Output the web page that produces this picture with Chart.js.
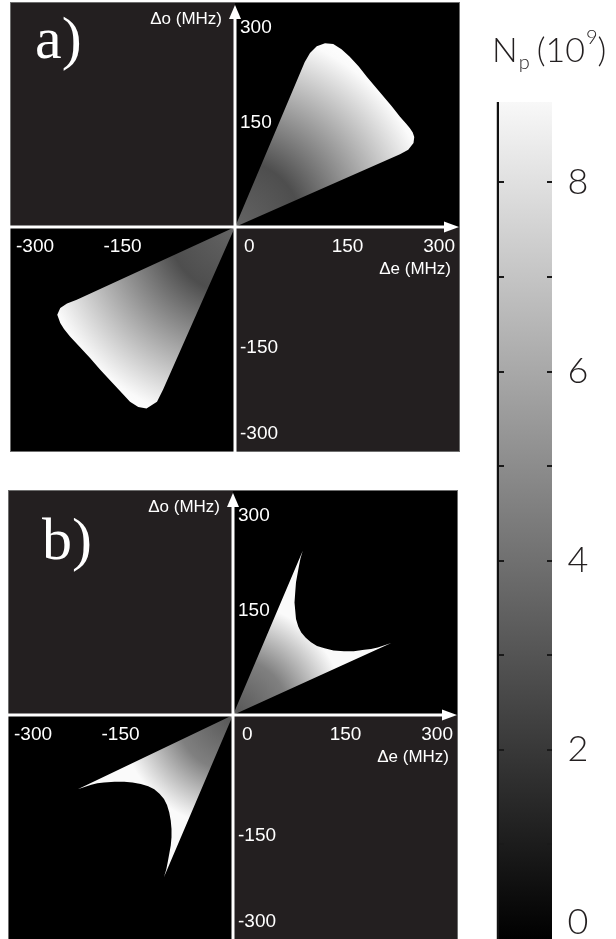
<!DOCTYPE html>
<html>
<head>
<meta charset="utf-8">
<title>Np detuning maps</title>
<script src="https://cdn.jsdelivr.net/npm/chart.js"></script>
<style>
  html, body { margin: 0; padding: 0; background: #fff; }
  #wrap { position: relative; width: 616px; height: 939px; overflow: hidden; }
  canvas { position: absolute; }
  #panel-a { left: 10px; top: 2px; }
  #panel-b { left: 8px; top: 490px; }
  #cbar { left: 470px; top: 0; }
</style>
</head>
<body>
<div id="wrap">
  <canvas id="panel-a" width="450" height="450"></canvas>
  <canvas id="panel-b" width="450" height="450"></canvas>
  <canvas id="cbar" width="146" height="939"></canvas>
</div>
<script>
// detuning range of both maps (MHz) and the labelled ticks
const detuneMin = -300;
const detuneMax = 300;
const axisTicks = [-300, -150, 0, 150, 300];

// a) lobe outlines: Δe and Δo in MHz
const aUpperE = [0, 93, 100, 109, 120, 131, 142, 153, 165, 176, 187, 198, 209, 220, 228, 233, 237, 239, 238, 231, 220, 0];
const aUpperO = [0, 220, 232, 241, 245, 244, 237, 227, 214, 200, 187, 174, 161, 147, 138, 132, 126, 120, 112, 103, 97, 0];
const aLowerE = [0, -96, -104, -118, -129, -140, -153, -167, -180, -193, -206, -220, -228, -233, -237, -233, -224, -211, 0];
const aLowerO = [0, -217, -233, -242, -240, -233, -219, -204, -190, -175, -161, -146, -136, -128, -117, -108, -102, -97, 0];

// b) lobe outlines
const bUpperE = [0, 93, 90, 88, 86, 84, 83, 82, 83, 84, 87, 91, 97, 104, 112, 122, 134, 148, 161, 175, 184, 193, 202, 211, 0];
const bUpperO = [0, 219, 209, 199, 188, 177, 164, 150, 139, 128, 118, 110, 103, 97, 92, 89, 86, 85, 85, 87, 88, 90, 93, 96, 0];
const bLowerE = [0, -92, -89, -87, -85, -83, -82, -82, -83, -85, -88, -92, -98, -105, -113, -123, -134, -145, -158, -172, -181, -189, -198, -207, 0];
const bLowerO = [0, -216, -206, -196, -185, -174, -163, -152, -141, -130, -120, -112, -105, -99, -95, -92, -90, -89, -89, -90, -91, -93, -96, -99, 0];

// colour bar, Np in units of 10^9
const npMax = 8.85;
const npLabels = [0, 2, 4, 6, 8];
const npMarks = [1, 2, 3, 4, 5, 6, 7, 8];

const tickFont = '19px "Liberation Sans", Arial, Helvetica, sans-serif';
const titleFont = '17px "Liberation Sans", Arial, Helvetica, sans-serif';

// radial shading around the origin, radius given in MHz
function lobeFill(stops, radius) {
    return function (context) {
        const chart = context.chart;
        const { chartArea, scales } = chart;
        if (!chartArea || !scales.x) return 'rgba(0,0,0,0)';
        const x0 = scales.x.getPixelForValue(0);
        const y0 = scales.y.getPixelForValue(0);
        const r = scales.x.getPixelForValue(radius) - x0;
        const g = chart.ctx.createRadialGradient(x0, y0, 0, x0, y0, r);
        stops.forEach(([o, c]) => g.addColorStop(o, c));
        return g;
    };
}

function lobe(es, os, fill) {
    return {
        data: es.map((e, i) => ({ x: e, y: os[i] })),
        showLine: true,
        fill: 'shape',
        backgroundColor: fill,
        borderColor: 'rgba(0,0,0,0)',
        borderWidth: 0,
        pointRadius: 0,
        pointHoverRadius: 0,
        tension: 0
    };
}

const panelDecor = {
    id: 'panelDecor',
    beforeDraw(chart) {
        const { ctx, chartArea: a, scales: { x, y } } = chart;
        const cx = x.getPixelForValue(0);
        const cy = y.getPixelForValue(0);
        ctx.save();
        ctx.fillStyle = '#000';
        ctx.fillRect(a.left, a.top, a.width, a.height);
        ctx.fillStyle = '#231f20';
        ctx.fillRect(a.left, a.top, cx - a.left, cy - a.top);
        ctx.fillRect(cx, cy, a.right - cx, a.bottom - cy);
        ctx.restore();
    },
    afterDatasetsDraw(chart, args, opts) {
        const { ctx, chartArea: a, scales: { x, y } } = chart;
        const cx = x.getPixelForValue(0);
        const cy = y.getPixelForValue(0);
        ctx.save();

        // border
        ctx.strokeStyle = '#6e6e6e';
        ctx.lineWidth = 1;
        ctx.strokeRect(a.left + 0.5, a.top + 0.5, a.width - 1, a.height - 1);

        // axes with arrow heads
        ctx.strokeStyle = '#fff';
        ctx.fillStyle = '#fff';
        ctx.lineWidth = 3;
        ctx.beginPath();
        ctx.moveTo(a.left, cy);
        ctx.lineTo(a.right - 14, cy);
        ctx.moveTo(cx, a.bottom);
        ctx.lineTo(cx, a.top + 14);
        ctx.stroke();
        ctx.beginPath();
        ctx.moveTo(a.right - 1, cy);
        ctx.lineTo(a.right - 16, cy - 5.5);
        ctx.lineTo(a.right - 16, cy + 5.5);
        ctx.closePath();
        ctx.fill();
        ctx.beginPath();
        ctx.moveTo(cx, a.top + 3);
        ctx.lineTo(cx - 6, a.top + 17);
        ctx.lineTo(cx + 6, a.top + 17);
        ctx.closePath();
        ctx.fill();

        // tick labels
        ctx.font = tickFont;
        ctx.textBaseline = 'middle';
        axisTicks.forEach((v) => {
            const t = String(v);
            const w = ctx.measureText(t).width;
            const px = x.getPixelForValue(v);
            let tx = px;
            ctx.textAlign = 'center';
            if (v === 0) {
                ctx.textAlign = 'left';
                tx = px + 9;
            } else if (px - w / 2 < a.left + 6) {
                ctx.textAlign = 'left';
                tx = a.left + 6;
            } else if (px + w / 2 > a.right - 5) {
                ctx.textAlign = 'right';
                tx = a.right - 5;
            }
            ctx.fillText(t, tx, cy + 20);
        });
        ctx.textAlign = 'left';
        axisTicks.forEach((v) => {
            if (v === 0) return;
            const py = Math.min(Math.max(y.getPixelForValue(v) + 8, a.top + 26), a.bottom - 18);
            ctx.fillText(String(v), cx + 5, py);
        });

        // axis titles
        ctx.font = titleFont;
        ctx.textAlign = 'right';
        ctx.fillText('Δo (MHz)', cx - 13, a.top + 17);
        ctx.fillText('Δe (MHz)', a.right - 9, cy + 42);

        // panel tag
        ctx.font = '60px "Liberation Serif", "Times New Roman", Times, serif';
        ctx.textAlign = 'left';
        ctx.textBaseline = 'alphabetic';
        ctx.fillText(opts.tag, a.left + opts.tagX, a.top + opts.tagY);
        ctx.restore();
    }
};

function makePanel(id, datasets, tag, tagX, tagY) {
    return new Chart(document.getElementById(id), {
        type: 'scatter',
        data: { datasets },
        options: {
            responsive: false,
            animation: false,
            events: [],
            layout: { padding: 0 },
            scales: {
                x: { type: 'linear', min: detuneMin, max: detuneMax, display: false },
                y: { type: 'linear', min: detuneMin, max: detuneMax, display: false }
            },
            plugins: {
                legend: { display: false },
                tooltip: { enabled: false },
                panelDecor: { tag, tagX, tagY }
            }
        },
        plugins: [panelDecor]
    });
}

const shadeA = lobeFill([[0, 'rgb(100,100,100)'], [0.33, 'rgb(78,78,78)'], [0.97, 'rgb(250,250,250)'], [1, 'rgb(252,252,252)']], 270);
const shadeB = lobeFill([[0, 'rgb(85,85,85)'], [0.5, 'rgb(128,128,128)'], [1, 'rgb(250,250,250)']], 150);

makePanel('panel-a', [lobe(aUpperE, aUpperO, shadeA), lobe(aLowerE, aLowerO, shadeA)], 'a)', 25, 56);
makePanel('panel-b', [lobe(bUpperE, bUpperO, shadeB), lobe(bLowerE, bLowerO, shadeB)], 'b)', 34, 69);

// colour bar
const cbarDecor = {
    id: 'cbarDecor',
    afterDatasetsDraw(chart) {
        const { ctx, chartArea: a, scales: { y } } = chart;
        const top = y.getPixelForValue(npMax);
        const bottom = y.getPixelForValue(0);
        ctx.save();
        ctx.fillStyle = '#c8c8c8';
        ctx.fillRect(a.left - 3, top, 1, bottom - top);
        ctx.fillStyle = '#111';
        ctx.fillRect(a.left - 2, top, 2, bottom - top);

        ctx.fillStyle = '#1a1a1a';
        npMarks.forEach((v) => {
            const py = Math.round(y.getPixelForValue(v));
            ctx.fillRect(a.left, py - 1, 5, 2);
            ctx.fillRect(a.right - 5, py - 1, 5, 2);
        });

        ctx.fillStyle = '#231f20';
        ctx.font = '300 36px Lato, "Open Sans", sans-serif';
        ctx.textAlign = 'center';
        ctx.textBaseline = 'middle';
        npLabels.forEach((v) => {
            const py = Math.min(y.getPixelForValue(v), a.bottom - 17);
            ctx.fillText(String(v), a.right + 26, py);
        });

        // N_p (10^9)
        ctx.textAlign = 'left';
        ctx.textBaseline = 'alphabetic';
        const big = '300 34px Lato, "Open Sans", sans-serif';
        const small = '300 20px Lato, "Open Sans", sans-serif';
        let tx = 22;
        const base = 62;
        ctx.font = big;
        ctx.fillText('N', tx, base);
        tx += ctx.measureText('N').width + 1;
        ctx.font = small;
        ctx.fillText('p', tx, base + 7);
        tx += ctx.measureText('p').width + 7;
        ctx.font = big;
        ctx.fillText('(10', tx, base);
        tx += ctx.measureText('(10').width + 1;
        ctx.font = small;
        ctx.fillText('9', tx, base - 18);
        tx += ctx.measureText('9').width;
        ctx.font = big;
        ctx.fillText(')', tx, base);
        ctx.restore();
    }
};

new Chart(document.getElementById('cbar'), {
    type: 'bar',
    data: {
        labels: ['Np'],
        datasets: [{
            data: [[0, npMax]],
            backgroundColor: function (context) {
                const chart = context.chart;
                const { chartArea, scales } = chart;
                if (!chartArea || !scales.y) return '#888';
                const g = chart.ctx.createLinearGradient(0, scales.y.getPixelForValue(0), 0, scales.y.getPixelForValue(npMax));
                g.addColorStop(0, '#000');
                g.addColorStop(1, 'rgb(248,248,248)');
                return g;
            },
            borderWidth: 0,
            borderSkipped: false,
            barPercentage: 1,
            categoryPercentage: 1
        }]
    },
    options: {
        responsive: false,
        animation: false,
        events: [],
        layout: { padding: { left: 29, right: 64, top: 102, bottom: 0 } },
        scales: {
            x: { display: false },
            y: { display: false, min: 0, max: npMax }
        },
        plugins: {
            legend: { display: false },
            tooltip: { enabled: false }
        }
    },
    plugins: [cbarDecor]
});
</script>
</body>
</html>
